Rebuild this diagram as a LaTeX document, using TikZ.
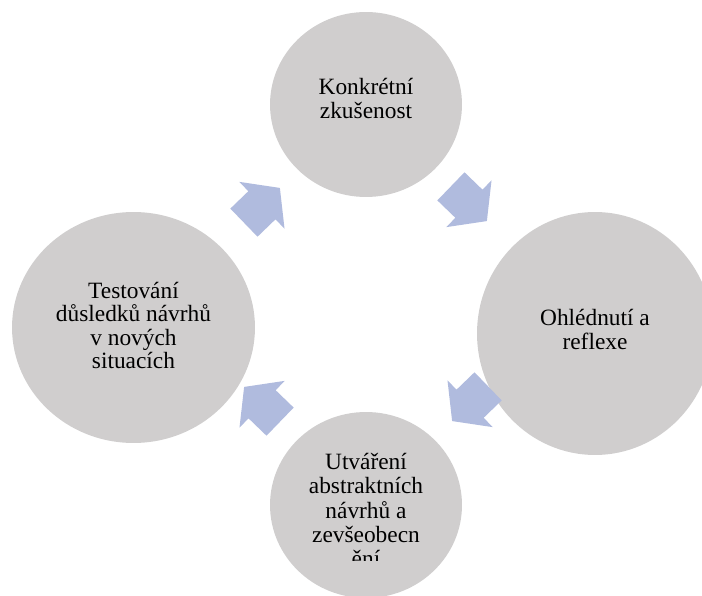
\documentclass[tikz,border=0pt]{standalone}
\usepackage{fontspec}
\setmainfont{Liberation Serif}
\usetikzlibrary{shapes.geometric,shapes.arrows}

\definecolor{bubblegray}{RGB}{208,206,206}
\definecolor{arrowblue}{RGB}{176,187,222}

\begin{document}
\begin{tikzpicture}[x=0.02cm,y=0.02cm,
		phase/.style={ellipse, fill=bubblegray, inner sep=0pt, align=center, font=\fontsize{13.3}{13.4}\selectfont},
		phasetext/.style={align=center, inner sep=0pt, font=\fontsize{13.3}{13.9}\selectfont},
		cyc/.style={single arrow, fill=arrowblue, inner sep=0pt, text height=0.768cm, text depth=0pt, minimum height=1cm, minimum width=1.29cm, single arrow head extend=0.26cm, single arrow tip angle=105},]
		\useasboundingbox (0,0) rectangle (702,595);
		
		\node[phase, minimum width=3.84cm, minimum height=3.7cm, text depth=0.24cm] (konk) at (366,490.5) {Konkrétní\\zkušenost};
		\node[phase, minimum width=4.72cm, minimum height=4.86cm, text depth=0.16cm] (ohl) at (595,261.5) {Ohlédnutí a\\reflexe};
		\node[phase, minimum width=3.84cm, minimum height=3.72cm] (utv) at (366,90) {};
		\node[phase, minimum width=4.86cm, minimum height=4.62cm, text depth=0.08cm] (test) at (133.5,267.5) {Testování\\důsledků návrhů\\v nových\\situacích};
		
		% text of the bottom bubble is cut off
		\begin{scope}
			\clip (utv.west |- 0,35) rectangle (utv.north east);
			\node[phasetext] (utvtext) at (366,85) {Utváření\\abstraktních\\návrhů a\\zevšeobecn\\ění};
		\end{scope}
		
		\node[cyc, rotate=-44] (a1) at (463.5,396.5) {};
		\node[cyc, rotate=-136] (a2) at (475.5,196.5) {};
		\node[cyc, rotate=136] (a3) at (267.5,185.5) {};
		\node[cyc, rotate=44] (a4) at (256.5,384.5) {};
		
\end{tikzpicture}
\end{document}
